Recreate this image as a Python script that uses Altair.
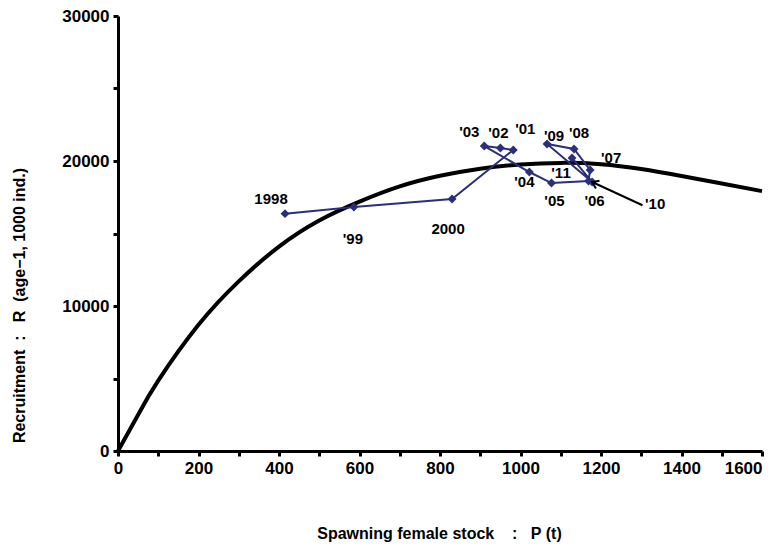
import altair as alt
import pandas as pd

# ---- data ----
years = ["1998", "'99", "2000", "'01", "'02", "'03", "'04", "'05", "'06", "'07", "'08", "'09", "'10", "'11"]
stock = [415, 586, 830, 982, 950, 910, 1022, 1077, 1169, 1173, 1133, 1066, 1178, 1128]
recruit = [16370, 16830, 17380, 20760, 20900, 21030, 19240, 18480, 18620, 19380, 20830, 21170, 18550, 20210]

# fitted reproduction curve
curve_p = [0, 50, 100, 200, 300, 400, 500, 600, 700, 800, 900, 1000, 1100, 1200, 1300, 1400, 1500, 1600]
curve_r = [0, 2500, 4850, 8700, 11700, 14100, 15900, 17200, 18250, 18980, 19470, 19760, 19870, 19780, 19450, 18970, 18450, 17920]

x_ticks = list(range(0, 1601, 100))
y_ticks = list(range(0, 30001, 5000))

# label offsets (pixels) relative to each point
label_dx = [-14, -1, -4, 12, -2, -15, -5, 3, 6, 21, 5, 7, 63, -11]
label_dy = [-15, 32, 30, -21, -15, -14, 10, 18, 20, -12, -16, -8, 22, 15]

obs = pd.DataFrame({"P": stock, "R": recruit, "year": years, "order": list(range(len(years)))})
cur = pd.DataFrame({"P": curve_p, "R": curve_r})

FONT = "Liberation Sans"
NAVY = "#2B2F7A"
NB = "\u00a0"

xscale = alt.Scale(domain=[0, 1600], nice=False, zero=False)
yscale = alt.Scale(domain=[0, 30000], nice=False, zero=False)

x_axis = alt.Axis(
    values=x_ticks, format="d", labelFlush=False,
    labelAlign={"condition": {"test": "datum.value >= 1600", "value": "right"}, "value": "center"},
    labelExpr="datum.value % 200 == 0 ? datum.label : ''",
    title="Spawning female stock" + NB * 4 + ":" + NB * 3 + "P" + NB + "(t)",
    titleX=321, titleY=82, titleBaseline="middle", titleAlign="center", titleFontSize=16,
)
y_axis = alt.Axis(
    values=y_ticks, format="d", labelFlush=False,
    labelExpr="datum.value % 10000 == 0 ? datum.label : ''",
    title="Recruitment" + NB * 2 + ":" + NB * 3 + "R" + NB * 2 + "(age\u22121, 1000 ind.)",
    titleX=-99, titleY=289, titleAngle=-90, titleBaseline="middle", titleAlign="center", titleFontSize=16,
)

curve = alt.Chart(cur).mark_line(color="black", strokeWidth=4, interpolate="natural").encode(
    x=alt.X("P:Q", scale=xscale, axis=x_axis),
    y=alt.Y("R:Q", scale=yscale, axis=y_axis),
)

path = alt.Chart(obs).mark_line(color=NAVY, strokeWidth=2).encode(
    x=alt.X("P:Q", scale=xscale),
    y=alt.Y("R:Q", scale=yscale),
    order="order:Q",
)

pts = alt.Chart(obs).mark_point(shape="diamond", filled=True, color=NAVY, size=80, opacity=1).encode(
    x=alt.X("P:Q", scale=xscale),
    y=alt.Y("R:Q", scale=yscale),
)

labels = []
for yr, dx, dy in zip(years, label_dx, label_dy):
    labels.append(
        alt.Chart(obs).transform_filter(alt.datum.year == yr).mark_text(
            font=FONT, fontWeight="bold", fontSize=15, color="black",
            align="center", baseline="middle", dx=dx, dy=dy,
        ).encode(
            x=alt.X("P:Q", scale=xscale),
            y=alt.Y("R:Q", scale=yscale),
            text="year:N",
        )
    )

# arrow pointing at the '10 point
arrow_line = alt.Chart(obs).transform_filter(alt.datum.year == "'10").transform_calculate(
    P2="datum.P + 125", R2="datum.R - 1600"
).mark_rule(color="black", strokeWidth=2).encode(
    x=alt.X("P:Q", scale=xscale),
    y=alt.Y("R:Q", scale=yscale),
    x2="P2:Q",
    y2="R2:Q",
)
arrow_head = alt.Chart(obs).transform_filter(alt.datum.year == "'10").mark_point(
    shape="M-0.7,1L0,0L0.7,1", filled=False, stroke="black", strokeWidth=2, size=150,
    angle=295, opacity=1,
).encode(
    x=alt.X("P:Q", scale=xscale),
    y=alt.Y("R:Q", scale=yscale),
)

chart = alt.layer(curve, path, pts, arrow_line, arrow_head, *labels).properties(
    width=644, height=435,
    autosize=alt.AutoSizeParams(type="none"),
    padding={"left": 110, "top": 8, "right": 13, "bottom": 91},
    background="white",
).configure_view(stroke=None).configure_axis(
    grid=False,
    domainColor="black", domainWidth=3,
    tickColor="black", tickWidth=3, tickSize=5,
    labelFont=FONT, labelFontWeight="bold", labelFontSize=17, labelColor="black",
    titleFont=FONT, titleFontWeight="bold", titleColor="black",
    labelPadding=4,
)

chart.save("out.html", embed_options={"renderer": "svg", "actions": False})
